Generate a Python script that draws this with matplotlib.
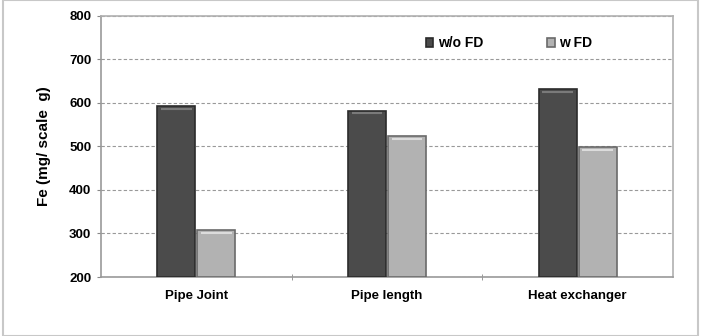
import matplotlib.pyplot as plt
import numpy as np
from matplotlib.patches import Rectangle

plt.rcParams['font.family'] = ['Liberation Sans', 'DejaVu Sans']
plt.rcParams['font.weight'] = 'bold'

categories = ['Pipe Joint', 'Pipe length', 'Heat exchanger']
wo_fd = [593, 582, 632]
w_fd = [308, 524, 499]

fig = plt.figure(figsize=(7.07, 3.36), dpi=100)
ax = fig.add_axes([101/707, 1 - 277/336, (673-101)/707, (277-16)/336])

# outer light frame around the whole chart
fig.patches.append(Rectangle((3/707, 0.0), (698-3)/707, 0.999, transform=fig.transFigure,
                             fill=False, edgecolor='#c8c8c8', linewidth=1.5))

x = np.arange(len(categories))
w = 0.2
b1 = ax.bar(x - w/2 - 0.005, np.array(wo_fd) - 200, w, bottom=200, color='#4b4b4b',
            edgecolor='#2b2b2b', linewidth=1.2, label='w/o FD', zorder=3)
b2 = ax.bar(x + w/2 + 0.005, np.array(w_fd) - 200, w, bottom=200, color='#b2b2b2',
            edgecolor='#6a6a6a', linewidth=1.2, label='w FD', zorder=3)

# bevel highlight near the top of each bar
for bars, hc in ((b1, '#7a7a7a'), (b2, '#dcdcdc')):
    for r in bars:
        x0 = r.get_x()
        top = r.get_y() + r.get_height()
        ax.plot([x0 + 0.02, x0 + r.get_width() - 0.02], [top - 6, top - 6],
                color=hc, linewidth=1.5, zorder=4, solid_capstyle='butt')

ax.set_xlim(-0.5, 2.5)
ax.set_ylim(200, 800)
ax.set_yticks(range(200, 801, 100))
ax.set_xticks(x)
ax.set_xticklabels(categories, fontsize=9.5)
ax.set_xticks([0.5, 1.5], minor=True)
ax.tick_params(axis='x', which='major', length=0, pad=9)
ax.tick_params(axis='x', which='minor', length=5, direction='inout', color='#888888')
ax.tick_params(axis='y', labelsize=9.5, length=3, color='#888888', pad=4)

ax.yaxis.grid(True, linestyle=(0, (3, 2)), color='#999999', linewidth=0.8, zorder=0)
for s in ax.spines.values():
    s.set_color('#b0b0b0')
    s.set_linewidth(1.2)
ax.spines['left'].set_color('#999999')
ax.spines['bottom'].set_color('#999999')

ax.set_ylabel('Fe (mg/ scale  g)', fontsize=11, fontweight='bold', labelpad=13)

ax.legend(loc='upper right', bbox_to_anchor=(0.88, 0.97), ncol=2, frameon=False,
          fontsize=10, handlelength=0.55, handleheight=0.55, columnspacing=4.6,
          handletextpad=0.3)

fig.savefig('out.png', dpi=100)
